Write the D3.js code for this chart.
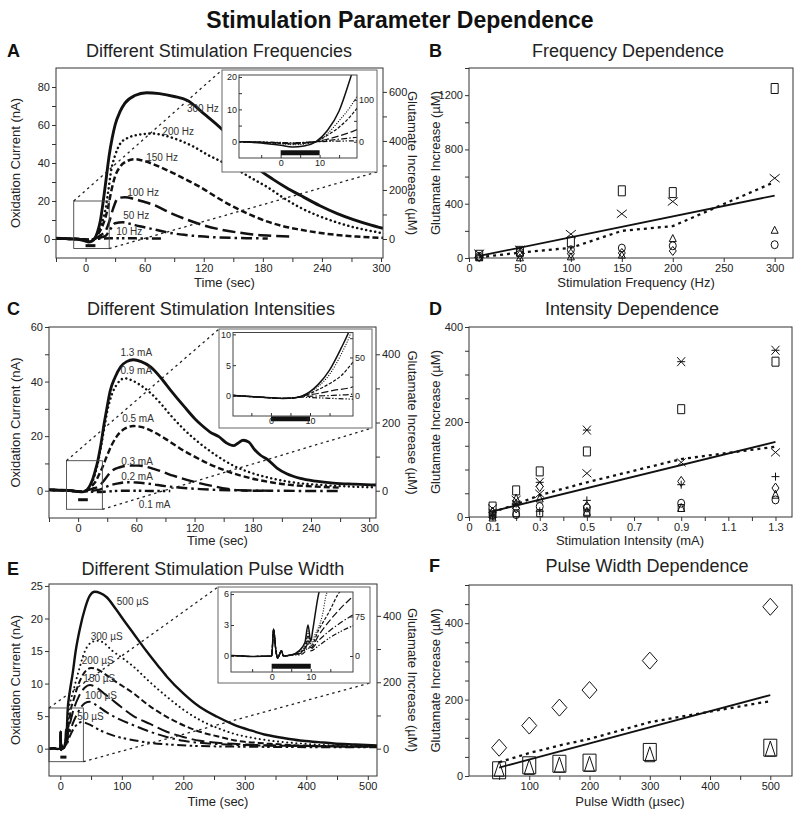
<!DOCTYPE html>
<html>
<head>
<meta charset="utf-8">
<script src="https://cdn.jsdelivr.net/npm/d3@7"></script>
<style>
  body { margin: 0; background: #fff; }
  svg { font-family: "Liberation Sans", Arial, sans-serif; }
</style>
</head>
<body>
<div id="fig"></div>
<script>
// ---------- data: A, different stimulation frequencies (time s, current nA) ----------
var freqNames = ["300 Hz", "200 Hz", "150 Hz", "100 Hz", "50 Hz", "10 Hz"];
var freq300 = [[-30,0.4],[-20,0.2],[-10,0],[-5,-0.4],[0,-1.1],[3,-1.6],[6,-1.3],[9,0],[12,3.5],[15,9.5],[18,20],[21,32],[24,44],[27,53],[30,60],[35,67],[40,71.5],[50,75.5],[62,77],[75,76.5],[90,75],[103,73],[120,66],[139,57.5],[157,47],[174,37.5],[190,31.5],[204,27],[218,23],[238,17.5],[255,13.5],[272,10.2],[290,7.3],[302,5.6]];
var freq200 = [[-30,0.3],[-20,0.1],[-10,0],[-5,-0.2],[0,-0.6],[3,-0.9],[6,-0.7],[9,0],[12,2.5],[15,6.5],[18,11],[20,15],[23,25],[26,36],[30,44],[35,50],[42,53],[50,54.5],[60,55.3],[68,55.5],[80,54.5],[95,52],[110,48.5],[125,44],[139,40.5],[157,35.5],[172,31],[184,27.5],[200,22],[218,16.5],[235,12.5],[252,9.3],[270,6.5],[288,4.4],[302,3]];
var freq150 = [[-30,0.3],[-20,0.1],[-10,0],[-5,-0.2],[0,-0.5],[3,-0.7],[6,-0.5],[9,0],[12,2],[15,4.5],[18,8],[20,11],[23,17],[26,25],[30,33],[35,38],[42,41],[50,42],[60,41],[75,38],[89,34.7],[105,30.5],[116,27.5],[133,22],[150,17],[167,12.8],[184,9.3],[200,6.8],[218,4.9],[235,3.4],[252,2.3],[275,1.3],[302,0.6]];
var freq100 = [[-30,0.3],[-20,0.1],[-10,0],[-5,-0.1],[0,-0.4],[3,-0.5],[6,-0.3],[9,0],[12,0.8],[15,1.8],[18,3],[20,4],[24,9],[28,16],[33,21.5],[40,22],[50,21],[60,19.5],[69,18],[85,14],[103,10.2],[120,7.2],[137,5],[155,3.4],[170,2.4],[190,1.7],[211,1.3]];
var freq50 = [[-30,0.3],[-20,0.1],[-10,0],[-5,-0.1],[0,-0.3],[3,-0.4],[6,-0.2],[9,0],[12,0.4],[15,0.8],[18,1.2],[20,1.5],[25,5],[30,8.3],[38,8.8],[45,8],[55,6.7],[70,5],[83,3.5],[100,2.2],[116,1.4],[133,0.9],[150,0.6],[168,0.4],[185,0.3]];
var freq10 = [[-30,0.3],[-20,0.1],[-10,0],[-5,-0.1],[0,-0.2],[3,-0.3],[6,-0.2],[9,0],[15,0.2],[25,0.4],[40,0.4],[55,0.3],[70,0.2],[80,0.2]];

// ---------- data: B, frequency dependence (Hz, uM) ----------
var freqX = [10, 50, 100, 150, 200, 300];
var freqSquare = [20, 49, 118, 495, 482, 1249];
var freqCross = [32, 61, 176, 326, 416, 588];
var freqTriangle = [5, 5, 12, 25, 147, 208];
var freqCircle = [12, 42, 61, 73, 90, 98];
var freqDiamond = [6, 22, 32, 37, 52, null];
var freqMean = [5, 40, 75, 200, 235, 560];
var freqFitX = [10, 300];
var freqFitY = [15, 460];

// ---------- data: C, different stimulation intensities (time s, current nA) ----------
var intNames = ["1.3 mA", "0.9 mA", "0.5 mA", "0.3 mA", "0.2 mA", "0.1 mA"];
var int13 = [[-30,0.3],[-20,0.2],[-10,0.1],[-5,-0.1],[0,-0.3],[3,-0.4],[6,-0.3],[8,0],[10,0.7],[12,1.8],[15,4.2],[18,7.8],[20,10.5],[23,16],[27,25],[30,31],[33,36.5],[38,41.5],[44,45.5],[50,47.3],[57,48],[65,47.3],[75,45.3],[85,41.5],[95,37],[109,31],[120,26.5],[128,23.8],[136,21.5],[145,19.8],[153,17.5],[160,16.5],[165,17.5],[170,18.5],[176,17.8],[182,15],[188,13],[195,11.5],[205,8.3],[215,6.2],[229,4.5],[245,3.5],[263,2.8],[285,2.4],[307,2.1]];
var int09 = [[-30,0.3],[-20,0.2],[-10,0.1],[-5,-0.1],[0,-0.3],[3,-0.4],[6,-0.3],[8,0],[10,0.6],[12,1.5],[15,3.5],[18,6.8],[20,9.5],[23,15],[27,23],[30,29],[35,35.5],[40,39],[48,41.2],[55,40.5],[65,38.5],[75,35.7],[85,32],[95,27.8],[109,22.5],[126,17.2],[143,12.8],[160,9.2],[178,6.6],[195,4.9],[212,3.6],[229,2.7],[250,2.1],[275,1.6],[307,1.2]];
var int05 = [[-30,0.3],[-20,0.2],[-10,0.1],[-5,-0.1],[0,-0.3],[3,-0.4],[6,-0.3],[8,0],[10,0.4],[12,1],[15,2],[18,3.3],[21,5.5],[25,8.5],[30,13],[35,17],[40,20],[47,22.5],[57,23.7],[67,23.2],[78,21.5],[90,19],[105,15.5],[120,12.5],[135,9.8],[150,7.6],[165,5.8],[180,4.4],[200,3],[220,2.1],[245,1.5],[270,1.1]];
var int03 = [[-30,0.3],[-20,0.2],[-10,0.1],[-5,-0.1],[0,-0.3],[3,-0.4],[6,-0.3],[8,0],[12,0.4],[16,0.9],[21,1.5],[25,3],[30,5.3],[35,7.3],[43,8.6],[52,9.2],[62,9.2],[70,8.8],[78,8],[88,6.8],[98,5.5],[112,4],[126,2.7],[140,1.6],[153,0.7],[165,0.2],[177,0],[191,0]];
var int02 = [[-30,0.3],[-20,0.2],[-10,0.1],[-5,-0.1],[0,-0.3],[3,-0.4],[6,-0.3],[8,-0.1],[12,0],[16,0.1],[21,0.3],[25,0.8],[30,1.6],[40,2.6],[50,3.1],[60,3],[74,2.5],[90,1.7],[109,1],[126,0.6],[143,0.3],[170,0.1],[200,0],[240,-0.1],[270,-0.1]];
var int01 = [[-30,0.3],[-20,0.2],[-10,0.1],[-5,-0.1],[0,-0.3],[3,-0.4],[6,-0.3],[8,-0.2],[12,-0.3],[16,-0.4],[21,-0.5],[30,-0.3],[45,0],[60,0],[75,-0.1],[95,-0.1]];

// ---------- data: D, intensity dependence (mA, uM) ----------
var intX = [0.1, 0.2, 0.3, 0.5, 0.9, 1.3];
var intStar = [8, 26, 73, 183, 327, 351];
var intSquare = [22, 56, 96, 138, 227, 327];
var intCross = [18, 36, 49, 92, 115, 136];
var intPlus = [2, 28, 12, 35, 68, 85];
var intDiamond = [10, 19, 64, 22, 75, 61];
var intTriangle = [0, 40, 40, 12, 20, 48];
var intCircle = [5, 5, 22, 19, 29, 36];
var intSquareLow = [3, 8, 8, 8, 19, null];
var intMean = [10, 27, 46, 73, 122, 148];
var intFitX = [0.1, 1.3];
var intFitY = [12, 158];

// ---------- data: E, different pulse widths (time s, current nA) ----------
var pwNames = ["500 \u00b5S", "300 \u00b5S", "200 \u00b5S", "150 \u00b5S", "100 \u00b5S", "50 \u00b5S"];
var pw500 = [[-18,0],[-10,0.05],[-5,-0.05],[0,0],[0.5,2.6],[1,0.8],[1.5,-0.2],[2.5,0.5],[3,0],[5,0.1],[7,0.5],[8.5,1.3],[9.3,3],[10,1.4],[10.5,2.5],[12,6],[15,8.5],[20,11.5],[25,15],[32,18.5],[40,21.5],[48,23.5],[56,24.1],[65,23.9],[75,23.3],[90,21.5],[105,19.5],[119,17.7],[140,15],[160,12.6],[173,11.1],[200,8.5],[227,6.4],[255,4.9],[282,3.7],[310,2.8],[336,2.1],[365,1.6],[390,1.25],[420,1],[445,0.8],[480,0.65],[515,0.5]];
var pw300 = [[-18,0],[-10,0.05],[-5,-0.05],[0,0],[0.5,2.6],[1,0.8],[1.5,-0.2],[2.5,0.5],[3,0],[5,0.1],[7,0.4],[8.5,1],[9.3,2.4],[10,1.2],[11,2],[13,4],[14,6],[17,7.5],[20,8.5],[30,12],[40,15],[50,16.3],[60,16.6],[70,16.3],[85,15],[100,14],[119,12.6],[146,10.2],[173,8],[200,6],[227,4.4],[255,3.2],[282,2.3],[310,1.7],[336,1.3],[390,0.8],[445,0.5],[515,0.4]];
var pw200 = [[-18,0],[-10,0.05],[-5,-0.05],[0,0],[0.5,2.6],[1,0.8],[1.5,-0.2],[2.5,0.5],[3,0],[5,0.1],[7,0.3],[8.5,0.8],[9.3,2],[10,1],[12,2.5],[15,4.5],[17,6],[20,7],[30,10],[40,11.8],[50,12.4],[60,12.2],[75,11.3],[90,10.3],[119,8.5],[146,6.5],[173,4.9],[200,3.6],[227,2.6],[255,1.9],[282,1.3],[336,0.8],[390,0.5],[515,0.3]];
var pw150 = [[-18,0],[-10,0.05],[-5,-0.05],[0,0],[0.5,2.6],[1,0.8],[1.5,-0.2],[2.5,0.5],[3,0],[5,0.1],[7,0.3],[8.5,0.7],[9.3,1.5],[10,0.8],[12,2],[15,3.5],[20,5.5],[30,8],[40,9.4],[48,9.8],[60,9.3],[75,8.2],[91,7],[119,5],[146,3.8],[173,2.6],[200,1.8],[227,1.2],[255,0.9],[310,0.6],[400,0.4],[515,0.3]];
var pw100 = [[-18,0],[-10,0.05],[-5,-0.05],[0,0],[0.5,2.6],[1,0.8],[1.5,-0.2],[2.5,0.5],[3,0],[5,0.1],[7,0.2],[8.5,0.6],[9.3,1.2],[10,0.7],[12,1.5],[15,2.5],[20,3.8],[30,5.8],[40,7],[48,7.2],[60,6.6],[75,5.6],[90,4.8],[119,3.6],[146,2.6],[173,1.8],[200,1.2],[227,0.9],[280,0.6],[400,0.4],[515,0.3]];
var pw50 = [[-18,0],[-10,0.05],[-5,-0.05],[0,0],[0.5,2.6],[1,0.8],[1.5,-0.2],[2.5,0.5],[3,0],[5,0.1],[7,0.1],[8.5,0.4],[9.3,0.8],[10,0.5],[12,1],[15,1.8],[20,2.8],[28,3.8],[35,4.1],[45,3.8],[65,2.8],[90,1.9],[119,1.3],[146,0.9],[173,0.67],[227,0.4],[300,0.3],[515,0.2]];

// ---------- data: F, pulse width dependence (usec, uM) ----------
var pwX = [50, 100, 150, 200, 300, 500];
var pwDiamond = [74, 132, 179, 225, 302, 443];
var pwSquare = [15, 28, 32, 35, 63, 74];
var pwTriangle = [19, 24, 30, 32, 57, 72];
var pwMean = [36, 60, 80, 97, 141, 196];
var pwFitX = [50, 500];
var pwFitY = [22, 212];

// ---------------------------------------------------------------
var svg = d3.select("#fig").append("svg")
  .attr("width", 800)
  .attr("height", 815);
var defs = svg.append("defs");

var INK = "#111", AXF = 11;
var dashes = {
  solid: null,
  dot: "0.1,4.5",
  dash: "6,3",
  long: "13,5",
  dashdot: "11,4,2.5,4",
  dashdotdot: "9,3.5,2.5,3,2.5,3.5"
};
var lineStyles = ["solid", "dot", "dash", "long", "dashdot", "dashdotdot"];

function scaleDash(s, k) {
  return s ? s.split(",").map(v => (+v * k).toFixed(2)).join(",") : null;
}

function addAxis(g, make, scale, ticks, labels, len, fs, tx, ty, fmt) {
  var ax = make(scale)
    .tickValues(ticks)
    .tickSizeInner(len)
    .tickSizeOuter(0)
    .tickPadding(2)
    .tickFormat(function (d) {
      var hit = labels.some(v => Math.abs(v - d) < 1e-6);
      return hit ? (fmt ? fmt(d) : d) : "";
    });
  var a = g.append("g")
    .attr("transform", "translate(" + tx + "," + ty + ")")
    .call(ax);
  a.attr("font-family", null).attr("font-size", fs);
  a.select(".domain").remove();
  a.selectAll(".tick line").attr("stroke", "#333");
  a.selectAll(".tick text").attr("fill", "#222");
  return a;
}

function clipRect(id, r) {
  defs.append("clipPath").attr("id", id)
    .append("rect")
    .attr("x", r.x0).attr("y", r.y0)
    .attr("width", r.x1 - r.x0).attr("height", r.y1 - r.y0);
  return "url(#" + id + ")";
}

function frameRect(g, r, stroke) {
  g.append("rect")
    .attr("x", r.x0).attr("y", r.y0)
    .attr("width", r.x1 - r.x0).attr("height", r.y1 - r.y0)
    .attr("fill", "none")
    .attr("stroke", stroke || "#333")
    .attr("stroke-width", 1);
}

function marker(type, w, h) {
  var a = w / 2, b = h / 2;
  switch (type) {
    case "square": return `M${-a},${-b}H${a}V${b}H${-a}Z`;
    case "circle": return `M${-a},0A${a},${b} 0 1 0 ${a},0A${a},${b} 0 1 0 ${-a},0Z`;
    case "triangle": return `M0,${-b}L${a},${b}L${-a},${b}Z`;
    case "diamond": return `M0,${-b}L${a},0L0,${b}L${-a},0Z`;
    case "cross": return `M${-a},${-b}L${a},${b}M${-a},${b}L${a},${-b}`;
    case "star": return `M${-a},${-b}L${a},${b}M${-a},${b}L${a},${-b}M${-a},0H${a}`;
    case "plus": return `M0,${-b}V${b}M${-a},0H${a}`;
  }
}

// trace panels (A, C, E) with zoomed inset
function tracePanel(p) {
  var f = p.frame, g = svg.append("g");
  var x = d3.scaleLinear().domain(p.xDom).range([f.x0, f.x1]);
  var y = d3.scaleLinear().domain(p.yDom).range([f.y1, f.y0]);
  var yR = d3.scaleLinear().domain(p.yDom.map(v => v * p.k)).range([f.y1, f.y0]);
  var series = p.curves.map((c, i) => ({ name: p.names[i], values: c, dash: p.styles[i], lab: p.labelAt[i] }));

  var line = d3.line().x(d => x(d[0])).y(d => y(d[1])).curve(d3.curveMonotoneX);
  g.append("g").attr("clip-path", clipRect("clip" + p.key, f))
    .selectAll("path").data(series).join("path")
      .attr("d", s => line(s.values))
      .attr("fill", "none")
      .attr("stroke", INK)
      .attr("stroke-width", (s, i) => i == 0 ? p.lw + 0.4 : p.lw)
      .attr("stroke-dasharray", s => dashes[s.dash])
      .attr("stroke-linecap", s => s.dash == "dot" ? "round" : "butt");

  // stimulus bar
  g.append("line")
    .attr("x1", x(0)).attr("x2", x(10))
    .attr("y1", y(p.barY)).attr("y2", y(p.barY))
    .attr("stroke", INK).attr("stroke-width", 3);

  g.selectAll("text.lab").data(series).join("text")
    .attr("class", "lab")
    .attr("x", s => x(s.lab[0]))
    .attr("y", s => y(s.lab[1]))
    .attr("dy", "0.35em")
    .attr("font-size", 10)
    .attr("fill", "#333")
    .text(s => s.name);

  frameRect(g, f);
  addAxis(g, d3.axisBottom, x, p.xTicks, p.xLabels, 4, AXF, 0, f.y1);
  addAxis(g, d3.axisLeft, y, p.yTicks, p.yLabels, 4, AXF, f.x0, 0);
  addAxis(g, d3.axisRight, yR, p.rTicks, p.rLabels, 4, AXF, f.x1, 0);

  // zoom box and dotted connectors
  var b = p.box, o = p.inset.outer, ii = p.inset.inner;
  var bx0 = x(b.x[0]), bx1 = x(b.x[1]), by0 = y(b.y[1]), by1 = y(b.y[0]);
  g.append("rect")
    .attr("x", bx0).attr("y", by0)
    .attr("width", bx1 - bx0).attr("height", by1 - by0)
    .attr("fill", "none").attr("stroke", "#444").attr("stroke-width", 0.9);
  [[bx0, by0, o.x0, o.y0], [bx1, by1, o.x1, o.y1]].forEach(function (c) {
    g.append("line")
      .attr("x1", c[0]).attr("y1", c[1]).attr("x2", c[2]).attr("y2", c[3])
      .attr("stroke", "#222").attr("stroke-width", 1.3)
      .attr("stroke-dasharray", "2.5,3.5");
  });

  // inset
  var ig = g.append("g");
  ig.append("rect")
    .attr("x", o.x0).attr("y", o.y0)
    .attr("width", o.x1 - o.x0).attr("height", o.y1 - o.y0)
    .attr("fill", "#fff").attr("stroke", "#666").attr("stroke-width", 1);
  var ix = d3.scaleLinear().domain(p.inset.xDom).range([ii.x0, ii.x1]);
  var iy = d3.scaleLinear().domain(p.inset.yDom).range([ii.y1, ii.y0]);
  var iyR = d3.scaleLinear().domain(p.inset.yDom.map(v => v * p.k)).range([ii.y1, ii.y0]);
  var iline = d3.line().x(d => ix(d[0])).y(d => iy(d[1])).curve(d3.curveMonotoneX);
  ig.append("g").attr("clip-path", clipRect("iclip" + p.key, ii))
    .selectAll("path").data(series).join("path")
      .attr("d", s => iline(s.values))
      .attr("fill", "none")
      .attr("stroke", INK)
      .attr("stroke-width", (s, i) => i == 0 ? 1.5 : 1.2)
      .attr("stroke-dasharray", s => scaleDash(dashes[s.dash], 0.55))
      .attr("stroke-linecap", s => s.dash == "dot" ? "round" : "butt");
  ig.append("line")
    .attr("x1", ix(0)).attr("x2", ix(10))
    .attr("y1", iy(p.inset.barY)).attr("y2", iy(p.inset.barY))
    .attr("stroke", INK).attr("stroke-width", 5);
  frameRect(ig, ii, "#444");
  addAxis(ig, d3.axisBottom, ix, p.inset.xTicks, [0, 10], -3, 9, 0, ii.y1);
  addAxis(ig, d3.axisLeft, iy, p.inset.yTicks, p.inset.yLabels, -3, 9, ii.x0, 0);
  addAxis(ig, d3.axisRight, iyR, p.inset.rTicks, p.inset.rLabels, -3, 9, ii.x1, 0);

  // axis titles
  var cy = (f.y0 + f.y1) / 2;
  g.append("text").attr("transform", `translate(20,${cy}) rotate(-90)`)
    .attr("text-anchor", "middle").attr("font-size", 13).attr("fill", "#222")
    .text("Oxidation Current (nA)");
  g.append("text").attr("transform", `translate(408,${cy}) rotate(90)`)
    .attr("text-anchor", "middle").attr("font-size", 13).attr("fill", "#222")
    .text("Glutamate Increase (\u00b5M)");
  g.append("text").attr("x", (f.x0 + f.x1) / 2 + 5).attr("y", p.xTitleY)
    .attr("text-anchor", "middle").attr("font-size", 13).attr("fill", "#222")
    .text("Time (sec)");
}

// scatter panels (B, D, F)
function scatterPanel(p) {
  var f = p.frame, g = svg.append("g");
  var x = d3.scaleLinear().domain(p.xDom).range([f.x0, f.x1]);
  var y = d3.scaleLinear().domain(p.yDom).range([f.y1, f.y0]);

  frameRect(g, f);
  addAxis(g, d3.axisBottom, x, p.xTicks, p.xLabels, 4, AXF, 0, f.y1, p.xFmt);
  addAxis(g, d3.axisLeft, y, p.yTicks, p.yLabels, 4, AXF, f.x0, 0);

  p.series.forEach(function (s) {
    g.append("g").selectAll("path")
      .data(d3.zip(p.xs, s.values).filter(d => d[1] != null))
      .join("path")
        .attr("transform", d => `translate(${x(d[0])},${y(d[1])})`)
        .attr("d", marker(s.type, s.w, s.h))
        .attr("fill", "none")
        .attr("stroke", INK)
        .attr("stroke-width", 1);
  });

  var line = d3.line().x(d => x(d[0])).y(d => y(d[1]));
  g.append("path")
    .attr("d", line(d3.zip(p.fitX, p.fitY)))
    .attr("fill", "none").attr("stroke", INK).attr("stroke-width", 1.8);
  g.append("path")
    .attr("d", line(d3.zip(p.xs, p.mean)))
    .attr("fill", "none").attr("stroke", INK).attr("stroke-width", 2.3)
    .attr("stroke-dasharray", "3,4");

  g.append("text").attr("transform", `translate(440,${(f.y0 + f.y1) / 2}) rotate(-90)`)
    .attr("text-anchor", "middle").attr("font-size", 13).attr("fill", "#222")
    .text("Glutamate Increase (\u00b5M)");
  g.append("text").attr("x", p.xTitleX).attr("y", p.xTitleY)
    .attr("text-anchor", "middle").attr("font-size", 13).attr("fill", "#222")
    .text(p.xTitle);
}

// ---------------------------------------------------------------
tracePanel({
  key: "A",
  frame: { x0: 56, x1: 383, y0: 68, y1: 258 },
  xDom: [-30, 302], yDom: [-10, 90], k: 7.75, lw: 2.5,
  xTicks: d3.range(-30, 301, 30), xLabels: [0, 60, 120, 180, 240, 300],
  yTicks: d3.range(0, 81, 10), yLabels: [0, 20, 40, 60, 80],
  rTicks: d3.range(0, 601, 100), rLabels: [0, 200, 400, 600],
  names: freqNames,
  curves: [freq300, freq200, freq150, freq100, freq50, freq10],
  styles: lineStyles,
  labelAt: [[103, 68.5], [78, 56.4], [61.6, 42.8], [42.3, 24.4], [38.2, 12.3], [31.1, 3.8]],
  barY: -3.5,
  box: { x: [-12, 24], y: [-5, 20] },
  inset: {
    outer: { x0: 222, x1: 377, y0: 70, y1: 172 },
    inner: { x0: 239, x1: 357, y0: 75, y1: 158 },
    xDom: [-10.7, 19.6], yDom: [-5, 20.6],
    xTicks: [-5, 0, 5, 10, 15], yTicks: [0, 5, 10, 15, 20], yLabels: [0, 10, 20],
    rTicks: [0, 50, 100], rLabels: [0, 100],
    barY: -3.4
  },
  xTitleY: 287
});

scatterPanel({
  frame: { x0: 469, x1: 793, y0: 68, y1: 258 },
  xDom: [0, 318], yDom: [0, 1400],
  xTicks: d3.range(0, 301, 50), xLabels: d3.range(0, 301, 50),
  yTicks: d3.range(0, 1401, 200), yLabels: [0, 400, 800, 1200],
  xs: freqX,
  series: [
    { type: "square", w: 7, h: 10, values: freqSquare },
    { type: "cross", w: 10, h: 8, values: freqCross },
    { type: "triangle", w: 7, h: 7, values: freqTriangle },
    { type: "circle", w: 7, h: 8, values: freqCircle },
    { type: "diamond", w: 7, h: 9, values: freqDiamond }
  ],
  mean: freqMean, fitX: freqFitX, fitY: freqFitY,
  xTitle: "Stimulation Frequency (Hz)", xTitleX: 636, xTitleY: 287
});

tracePanel({
  key: "C",
  frame: { x0: 49, x1: 376, y0: 327, y1: 518 },
  xDom: [-30, 307], yDom: [-10, 60], k: 8, lw: 2.4,
  xTicks: d3.range(-30, 301, 30), xLabels: [0, 60, 120, 180, 240, 300],
  yTicks: d3.range(0, 61, 10), yLabels: [0, 20, 40, 60],
  rTicks: d3.range(0, 401, 100), rLabels: [0, 200, 400],
  names: intNames,
  curves: [int13, int09, int05, int03, int02, int01],
  styles: lineStyles,
  labelAt: [[43.6, 50.5], [43.6, 44], [45.4, 26.5], [44.4, 10.6], [44.4, 5.3], [62.6, -4.9]],
  barY: -3.3,
  box: { x: [-12, 25], y: [-6.8, 11] },
  inset: {
    outer: { x0: 219, x1: 372, y0: 329, y1: 428 },
    inner: { x0: 233, x1: 353, y0: 332.5, y1: 416 },
    xDom: [-9.7, 21], yDom: [-3.25, 10.3],
    xTicks: [-5, 0, 5, 10, 15], yTicks: [0, 5, 10], yLabels: [0, 5, 10],
    rTicks: [0, 25, 50, 75], rLabels: [0, 50],
    barY: -3.7
  },
  xTitleY: 545
});

scatterPanel({
  frame: { x0: 469, x1: 792, y0: 327, y1: 517 },
  xDom: [0, 1.37], yDom: [0, 400],
  xTicks: d3.range(0, 14).map(i => i / 10), xLabels: [0, 0.1, 0.3, 0.5, 0.7, 0.9, 1.1, 1.3],
  xFmt: d => d === 0 ? "0" : d3.format(".1f")(d),
  yTicks: d3.range(0, 401, 50), yLabels: [0, 200, 400],
  xs: intX,
  series: [
    { type: "square", w: 7, h: 9, values: intSquare },
    { type: "star", w: 8, h: 9, values: intStar },
    { type: "cross", w: 9, h: 8, values: intCross },
    { type: "plus", w: 8, h: 8, values: intPlus },
    { type: "diamond", w: 7, h: 10, values: intDiamond },
    { type: "triangle", w: 7, h: 8, values: intTriangle },
    { type: "circle", w: 7, h: 8, values: intCircle },
    { type: "square", w: 6, h: 7, values: intSquareLow }
  ],
  mean: intMean, fitX: intFitX, fitY: intFitY,
  xTitle: "Stimulation Intensity (mA)", xTitleX: 630, xTitleY: 545
});

tracePanel({
  key: "E",
  frame: { x0: 49, x1: 377, y0: 584, y1: 776 },
  xDom: [-18.4, 515], yDom: [-4.2, 25.3], k: 19.6, lw: 2,
  xTicks: d3.range(0, 501, 50), xLabels: [0, 100, 200, 300, 400, 500],
  yTicks: d3.range(0, 26, 5), yLabels: d3.range(0, 26, 5),
  rTicks: d3.range(0, 401, 100), rLabels: [0, 200, 400],
  names: pwNames,
  curves: [pw500, pw300, pw200, pw150, pw100, pw50],
  styles: ["solid", "dot", "dash", "long", "dashdot", "dashdotdot"],
  labelAt: [[91.9, 22.6], [49.5, 17.3], [34.9, 13.6], [37.5, 10.8], [40.2, 8.1], [27.7, 4.9]],
  barY: -1.3,
  box: { x: [-18.4, 37.5], y: [-2, 6.25] },
  inset: {
    outer: { x0: 218, x1: 370, y0: 587, y1: 683 },
    inner: { x0: 231, x1: 353, y0: 592, y1: 672 },
    xDom: [-10.4, 20.8], yDom: [-1.55, 6.2],
    xTicks: [-5, 0, 5, 10, 15], yTicks: [0, 3, 6], yLabels: [0, 3, 6],
    rTicks: [0, 75], rLabels: [0, 75],
    barY: -1.0
  },
  xTitleY: 806
});

scatterPanel({
  frame: { x0: 469, x1: 792, y0: 585, y1: 776 },
  xDom: [0, 536], yDom: [0, 500],
  xTicks: d3.range(50, 501, 50), xLabels: [100, 200, 300, 400, 500],
  yTicks: d3.range(0, 501, 50), yLabels: [0, 200, 400],
  xs: pwX,
  series: [
    { type: "diamond", w: 15, h: 17, values: pwDiamond },
    { type: "square", w: 13, h: 17, values: pwSquare },
    { type: "triangle", w: 10, h: 15, values: pwTriangle }
  ],
  mean: pwMean, fitX: pwFitX, fitY: pwFitY,
  xTitle: "Pulse Width (\u00b5sec)", xTitleX: 630, xTitleY: 806
});

// ---------- titles ----------
svg.append("text")
  .attr("x", 400).attr("y", 28)
  .attr("text-anchor", "middle")
  .attr("font-size", 23).attr("font-weight", "bold").attr("fill", "#111")
  .text("Stimulation Parameter Dependence");

var panelTitles = [
  ["A", 7, 57, "Different Stimulation Frequencies", 219, 57],
  ["B", 429, 57, "Frequency Dependence", 628, 57],
  ["C", 7, 315, "Different Stimulation Intensities", 211, 315],
  ["D", 429, 315, "Intensity Dependence", 632, 315],
  ["E", 7, 575, "Different Stimulation Pulse Width", 213, 575],
  ["F", 429, 572, "Pulse Width Dependence", 647, 572]
];
panelTitles.forEach(function (t) {
  svg.append("text")
    .attr("x", t[1]).attr("y", t[2])
    .attr("font-size", 18).attr("font-weight", "bold").attr("fill", "#111")
    .text(t[0]);
  svg.append("text")
    .attr("x", t[4]).attr("y", t[5])
    .attr("text-anchor", "middle")
    .attr("font-size", 18).attr("fill", "#222")
    .text(t[3]);
});
</script>
</body>
</html>
